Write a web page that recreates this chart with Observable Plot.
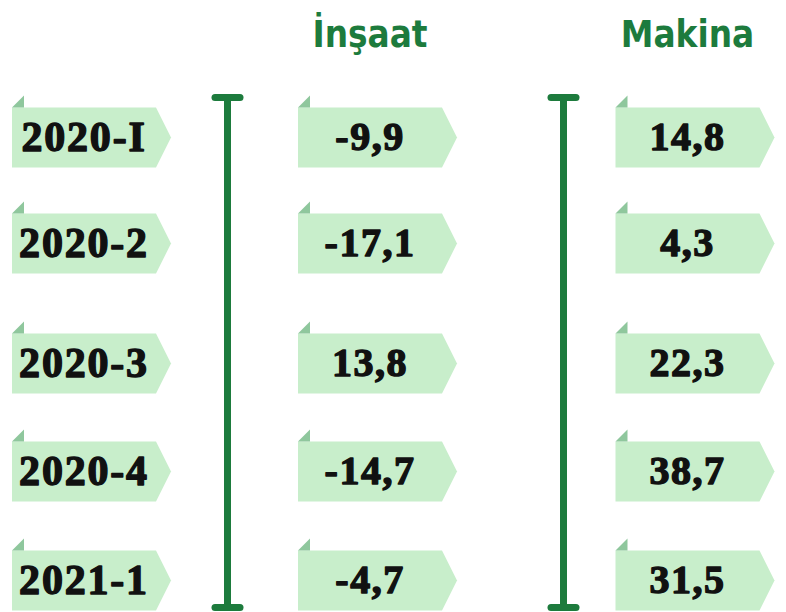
<!DOCTYPE html>
<html>
<head>
<meta charset="utf-8">
<script src="https://cdn.jsdelivr.net/npm/d3@7"></script>
<script src="https://cdn.jsdelivr.net/npm/@observablehq/plot@0.6"></script>
<style>
  html, body { margin: 0; padding: 0; background: #fff; }
  #chart svg { display: block; }
</style>
</head>
<body>
<div id="chart"></div>
<script>
// ---- data ----
const periods = ["2020-I", "2020-2", "2020-3", "2020-4", "2021-1"];
const seriesNames = ["İnşaat", "Makina"];
const insaat = [-9.9, -17.1, 13.8, -14.7, -4.7];
const makina = [14.8, 4.3, 22.3, 38.7, 31.5];
const dividers = [0.5, 1.5]; // vertical bars sit between the columns

// ---- derived tables ----
const fmt = v => String(v).replace(".", ",");
const labelCells = periods.map((p, i) => ({col: 0, row: i, label: p}));
const valueCells = [];
periods.forEach((p, i) => {
  valueCells.push({col: 1, row: i, label: fmt(insaat[i])});
  valueCells.push({col: 2, row: i, label: fmt(makina[i])});
});
const cells = labelCells.concat(valueCells);
const headers = seriesNames.map((s, i) => ({col: i + 1, row: -1, label: s}));

// ---- custom shapes ----
const arrowSymbol = {
  draw(ctx) {
    ctx.moveTo(-72, -30); ctx.lineTo(72, -30); ctx.lineTo(87, 0);
    ctx.lineTo(72, 30); ctx.lineTo(-72, 30); ctx.closePath();
  }
};
const foldSymbol = {
  draw(ctx) {
    ctx.moveTo(-72, -30); ctx.lineTo(-60, -42); ctx.lineTo(-60, -30); ctx.closePath();
  }
};
const capSymbol = {
  draw(ctx) {
    const r = 3.5, w = 12.5;
    ctx.moveTo(-w, -r); ctx.lineTo(w, -r);
    ctx.arc(w, 0, r, -Math.PI / 2, Math.PI / 2);
    ctx.lineTo(-w, r);
    ctx.arc(-w, 0, r, Math.PI / 2, 3 * Math.PI / 2);
    ctx.closePath();
  }
};

const GREEN = "#1d7b3d";
const INK = "#111";

const chart = Plot.plot({
  width: 786,
  height: 612,
  marginTop: 97,
  marginBottom: 5,
  marginLeft: 0,
  marginRight: 0,
  x: {type: "linear", domain: [0, 0.5, 1, 1.5, 2], range: [83.5, 227, 369.5, 563, 687], axis: null},
  y: {type: "linear", domain: [-1, 0, 1, 2, 3, 4], range: [35, 137, 243, 363, 471, 580], axis: null},
  marks: [
    Plot.ruleX(dividers, {x: d => d, stroke: GREEN, strokeWidth: 7}),
    Plot.dot(dividers, {x: d => d, frameAnchor: "top", symbol: capSymbol, fill: GREEN, stroke: "none"}),
    Plot.dot(dividers, {x: d => d, frameAnchor: "bottom", symbol: capSymbol, fill: GREEN, stroke: "none"}),
    Plot.dot(cells, {x: "col", y: "row", symbol: arrowSymbol, fill: "#c8eecb", stroke: "none"}),
    Plot.dot(cells, {x: "col", y: "row", symbol: foldSymbol, fill: "#8fc79d", stroke: "none"}),
    Plot.text(labelCells, {
      x: "col", y: "row", text: "label",
      fontSize: 42, fontFamily: "Liberation Serif", fontWeight: "bold",
      fill: INK, stroke: INK, strokeWidth: 1.4
    }),
    Plot.text(valueCells, {
      x: "col", y: "row", text: "label",
      fontSize: 40, fontFamily: "Liberation Serif", fontWeight: "bold",
      fill: INK, stroke: INK, strokeWidth: 1.4
    }),
    Plot.text(headers, {
      x: "col", y: "row", text: "label",
      fontSize: 36.5, fontFamily: "DejaVu Sans Condensed", fontWeight: "bold", fill: GREEN
    })
  ]
});
// letter spacing for the heavy serif labels
const textGroups = chart.querySelectorAll('g[aria-label="text"]');
if (textGroups[0]) textGroups[0].setAttribute("letter-spacing", "1.8");
if (textGroups[1]) textGroups[1].setAttribute("letter-spacing", "1.5");
document.getElementById("chart").appendChild(chart);
</script>
</body>
</html>
